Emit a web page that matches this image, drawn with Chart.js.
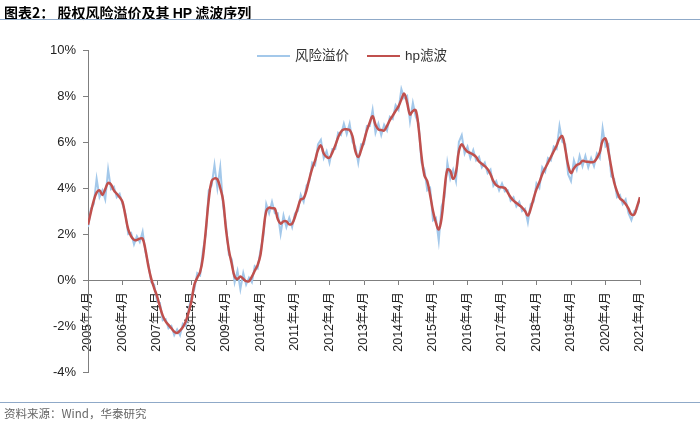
<!DOCTYPE html>
<html>
<head>
<meta charset="utf-8">
<script src="https://cdn.jsdelivr.net/npm/chart.js@4"></script>
<style>
  body { margin: 0; background: #fff; }
  .page { position: relative; width: 700px; height: 422px; overflow: hidden; font-family: Arial, "Liberation Sans", "Noto Sans CJK SC", sans-serif; }
  .title { position: absolute; left: 4px; top: 2px; font-size: 14px; font-weight: bold; color: #000; font-family: "Noto Sans CJK SC", sans-serif; }
  .title b { font-family: Arial, "Liberation Sans", sans-serif; }
  .rule { position: absolute; left: 0; width: 700px; height: 0; border-top: 1.5px solid #8fa9c8; }
  .legend { position: absolute; top: 44px; font-size: 13.5px; color: #333; }
  .legend span.line { display: inline-block; width: 33px; height: 2px; vertical-align: middle; margin-right: 5px; }
  .source { position: absolute; left: 4px; top: 405px; font-size: 11.5px; color: #666; font-family: "Noto Sans CJK SC", sans-serif; }
  canvas { position: absolute; left: 0; top: 0; }
</style>
</head>
<body>
<div class="page">
  <canvas id="chart" width="700" height="422"></canvas>
  <div class="title">图表2：&nbsp;股权风险溢价及其 <b>HP</b> 滤波序列</div>
  <div class="rule" style="top:19px"></div>
  <div class="legend" style="left:257px"><span class="line" style="background:#a3c8ea"></span>风险溢价</div>
  <div class="legend" style="left:367px"><span class="line" style="background:#c0504d"></span>hp滤波</div>
  <div class="rule" style="top:402px"></div>
  <div class="source">资料来源：Wind，华泰研究</div>
</div>
<script>
// 月度数据：2005年4月 ~ 2021年4月（索引0 = 2005年4月）
const yearTicks = ['2005年4月', '2006年4月', '2007年4月', '2008年4月', '2009年4月', '2010年4月',
    '2011年4月', '2012年4月', '2013年4月', '2014年4月', '2015年4月', '2016年4月',
    '2017年4月', '2018年4月', '2019年4月', '2020年4月', '2021年4月'];

// 风险溢价（%）
const riskPremium = [
    2.3, 3.1, 3.3, 4.4, 3.6, 3.9, 3.5, 4.8, 3.95, 4.05, 3.6, 3.75,
    3.3, 2.9, 2.0, 2.05, 1.55, 1.9, 1.65, 2.1, 1.2, 0.7, -0.1, -0.2,
    -0.9, -1.0, -1.75, -1.7, -2.1, -2.0, -2.4, -2.15, -2.4, -1.9, -2.0, -1.3,
    -0.7, -0.4, 0.3, 0.2, 1.3, 2.0, 3.9, 4.1, 5.0, 4.0, 4.9, 3.2,
    2.4, 1.1, 0.9, -0.1, 0.4, -0.4, 0.3, -0.2, 0.1, -0.1, 0.6, 0.5,
    1.3, 1.9, 3.3, 2.9, 3.4, 2.9, 2.9, 2.0, 2.8, 2.3, 2.7, 2.3,
    2.9, 3.0, 3.7, 3.4, 4.1, 4.3, 5.1, 5.0, 5.9, 6.1, 5.3, 5.6,
    5.1, 5.7, 5.7, 6.4, 6.3, 6.8, 6.35, 6.8, 6.0, 5.8, 5.1, 5.9,
    5.9, 6.7, 6.7, 7.4, 6.4, 6.8, 6.3, 6.75, 6.5, 7.1, 7.0, 7.6,
    7.4, 8.3, 7.9, 8.0, 6.9, 7.7, 7.1, 6.8, 5.1, 4.8, 3.9, 4.0,
    2.6, 2.7, 1.7, 3.2, 3.6, 5.1, 4.4, 4.8, 4.3, 6.0, 6.3, 5.5,
    5.8, 5.3, 5.65, 5.2, 5.35, 4.9, 5.1, 4.65, 4.8, 4.1, 4.3, 3.9,
    4.2, 3.85, 3.9, 3.45, 3.6, 3.2, 3.4, 3.0, 3.1, 2.5, 3.3, 3.4,
    4.2, 4.0, 4.9, 4.7, 5.3, 5.2, 5.8, 5.7, 6.7, 6.0, 5.9, 4.6,
    4.3, 5.2, 4.8, 5.4, 4.95, 5.4, 4.9, 5.3, 4.95, 5.5, 5.3, 6.6,
    5.8, 5.9, 4.5, 4.4, 3.6, 3.7, 3.3, 3.5, 2.9, 2.6, 3.0, 3.1,
    3.6
];

// hp滤波（%）
const hpFilter = [
    2.4, 2.95, 3.45, 3.8, 3.9, 3.7, 3.95, 4.22, 4.15, 3.9, 3.75, 3.6,
    3.4, 2.8, 2.2, 1.9, 1.75, 1.74, 1.8, 1.8, 1.3, 0.6, 0.05, -0.35,
    -0.7, -1.15, -1.55, -1.8, -1.95, -2.1, -2.25, -2.3, -2.2, -2.05, -1.8, -1.4,
    -0.9, -0.2, 0.1, 0.35, 1.0, 2.2, 3.5, 4.3, 4.42, 4.38, 4.0, 3.45,
    2.2, 1.3, 0.7, 0.15, 0.05, 0.15, 0.05, -0.05, -0.05, 0.15, 0.4, 0.65,
    1.1, 2.1, 3.0, 3.15, 3.12, 3.1, 2.65, 2.45, 2.55, 2.55, 2.42, 2.45,
    2.75, 3.15, 3.5, 3.55, 3.9, 4.4, 4.85, 5.2, 5.65, 5.85, 5.5, 5.35,
    5.32, 5.55, 5.85, 6.2, 6.45, 6.55, 6.55, 6.52, 6.25, 5.6, 5.35, 5.65,
    6.05, 6.5, 6.85, 7.12, 6.75, 6.55, 6.52, 6.5, 6.7, 6.95, 7.15, 7.35,
    7.55, 7.85, 8.1, 7.7, 7.2, 7.35, 7.38, 6.6, 5.4, 4.55, 4.3, 3.7,
    3.0, 2.5, 2.2, 2.7, 3.9, 4.8, 4.75, 4.4, 4.7, 5.6, 5.9, 5.72,
    5.58, 5.52, 5.45, 5.35, 5.15, 5.05, 4.95, 4.82, 4.6, 4.3, 4.12, 4.05,
    4.03, 4.0, 3.8, 3.6, 3.45, 3.35, 3.25, 3.15, 3.0, 2.8, 3.1, 3.55,
    3.95, 4.25, 4.6, 4.86, 5.1, 5.35, 5.6, 5.85, 6.15, 6.25, 5.7, 5.0,
    4.65, 4.85, 5.0, 5.05, 5.18, 5.15, 5.14, 5.12, 5.14, 5.3, 5.55, 6.05,
    6.15, 5.6, 4.9, 4.25, 3.85, 3.55, 3.45, 3.3, 3.1, 2.85, 2.85, 3.2,
    3.6
];

const axisColor = '#7f7f7f';
const tickFont = { family: 'Arial, "Liberation Sans", "Noto Sans CJK SC", sans-serif', size: 13 };

const ctx = document.getElementById('chart').getContext('2d');
new Chart(ctx, {
    type: 'line',
    data: {
        datasets: [{
            label: '风险溢价',
            data: riskPremium.map((v, i) => ({ x: i, y: v })),
            borderColor: '#a3c8ea',
            borderWidth: 2,
            pointRadius: 0,
            tension: 0,
            order: 2
        }, {
            label: 'hp滤波',
            data: hpFilter.map((v, i) => ({ x: i, y: v })),
            borderColor: '#c0504d',
            borderWidth: 2.5,
            pointRadius: 0,
            tension: 0.4,
            order: 1
        }]
    },
    options: {
        responsive: false,
        animation: false,
        layout: { padding: { left: 0, top: 50, right: 60, bottom: 50 } },
        plugins: {
            legend: { display: false },
            tooltip: { enabled: false }
        },
        scales: {
            x: {
                type: 'linear',
                position: { y: 0 },
                min: 0,
                max: 192,
                afterFit: (scale) => { scale.height = 0; },
                border: { color: axisColor, width: 1 },
                grid: { drawOnChartArea: false, drawTicks: true, tickLength: 4, color: axisColor },
                ticks: {
                    stepSize: 12,
                    autoSkip: false,
                    maxRotation: 90,
                    minRotation: 90,
                    padding: 8,
                    color: '#222',
                    font: { family: tickFont.family, size: 12.5 },
                    callback: (v) => yearTicks[v / 12]
                }
            },
            y: {
                min: -4,
                max: 10,
                afterFit: (scale) => { scale.width = 88; },
                border: { color: axisColor, width: 1 },
                grid: { drawOnChartArea: false, drawTicks: true, tickLength: 5, color: axisColor },
                ticks: {
                    stepSize: 2,
                    padding: 7,
                    color: '#222',
                    font: tickFont,
                    callback: (v) => v + '%'
                }
            }
        }
    }
});
</script>
</body>
</html>
